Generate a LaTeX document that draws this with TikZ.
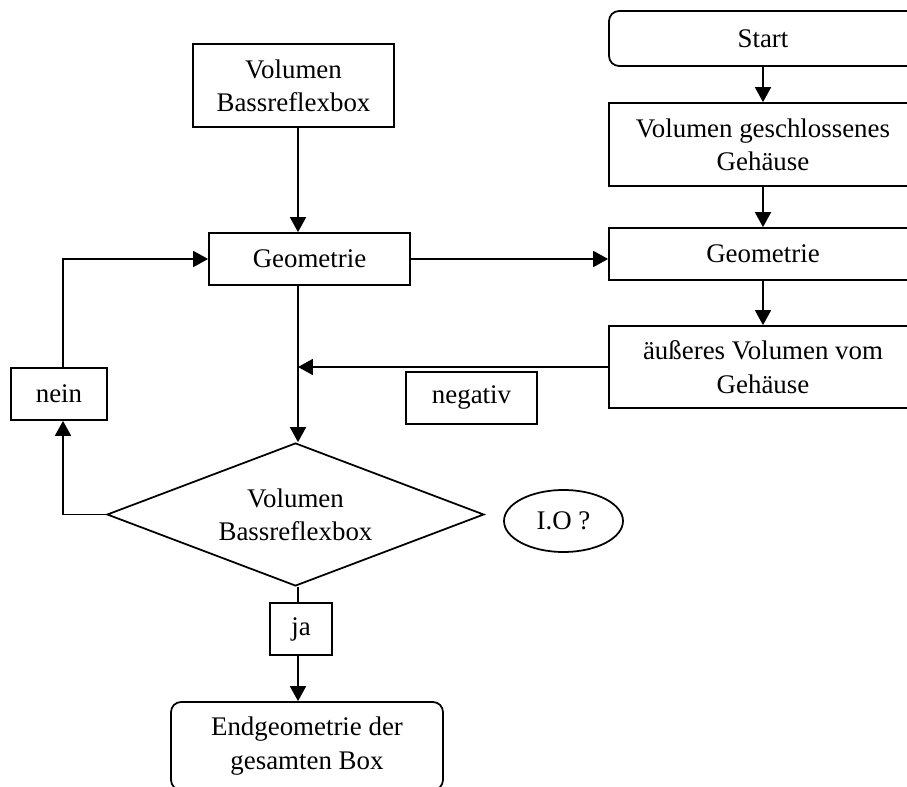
\documentclass[tikz,border=0pt]{standalone}
\usepackage{fontspec}
\setmainfont{Liberation Serif}
\usetikzlibrary{arrows.meta,shapes.geometric}
\begin{document}
\begin{tikzpicture}[x=0.02cm,y=-0.02cm,>={Triangle[length=0.3cm,width=0.32cm]},
        every node/.style={font=\fontsize{15.3}{19}\selectfont,align=center,inner sep=0pt},
        box/.style={draw,line width=1pt,rectangle},
        startstop/.style={box,rounded corners=0.2cm},
        decision/.style={draw,line width=1pt,diamond,aspect=2.64},
        flow/.style={line width=1pt}]
        \useasboundingbox(0,0)rectangle(907,787);
        \coordinate(axis)at(298,0);
        \coordinate(back)at(63,0);
        % rechte Spalte
        \node[startstop,minimum width=6.16cm,minimum height=1.1cm](start)at(763,38.5){Start};
        \node[box,minimum width=6.16cm,minimum height=1.66cm](volgs)at(763,144.5){Volumen geschlossenes\\Gehäuse};
        \node[box,minimum width=6.16cm,minimum height=1.04cm](geoR)at(763,254){Geometrie};
        \node[box,minimum width=6.16cm,minimum height=1.64cm](aussen)at(763,367){äußeres Volumen vom\\Gehäuse};
        \node[box,minimum width=2.62cm,minimum height=1.04cm](negativ)at(471.5,398){negativ};
        % linke Spalte
        \node[box,minimum width=4.02cm,minimum height=1.66cm](volbr)at(293.5,85.5){Volumen\\Bassreflexbox};
        \node[box,minimum width=4.02cm,minimum height=1.04cm](geoL)at(309.5,259){Geometrie};
        \node[box,minimum width=1.92cm,minimum height=1.04cm](nein)at(59,394){nein};
        \node[decision,minimum width=7.54cm,minimum height=2.86cm](dec)at(295.5,514.5){Volumen\\Bassreflexbox};
        \node[draw,line width=1pt,ellipse,minimum width=2.38cm,minimum height=1.24cm](io)at(563.5,521){I.O ?};
        \node[box,minimum width=1.24cm,minimum height=1.04cm](ja)at(301,629){ja};
        \node[startstop,minimum width=5.44cm,minimum height=1.76cm](endg)at(307,746){Endgeometrie der\\gesamten Box};
        % Verbindungen
        \draw[flow,->](start)--(volgs);
        \draw[flow,->](volgs)--(geoR);
        \draw[flow,->](geoR)--(aussen);
        \draw[flow,->](axis|-volbr.south)--(axis|-geoL.north);
        \draw[flow,->](geoL.east)--(geoL.east-|geoR.west);
        \draw[flow,->](aussen.west)--(axis|-aussen.west);
        \draw[flow,->](axis|-geoL.south)--(axis|-dec.north);
        \draw[flow,->](dec.west)--(back|-dec.west)--(back|-nein.south);
        \draw[flow,->](back|-nein.north)--(back|-geoL.west)--(geoL.west);
        \draw[flow](axis|-dec.south)--(axis|-ja.north);
        \draw[flow,->](axis|-ja.south)--(axis|-endg.north);
    \end{tikzpicture}
\end{document}
